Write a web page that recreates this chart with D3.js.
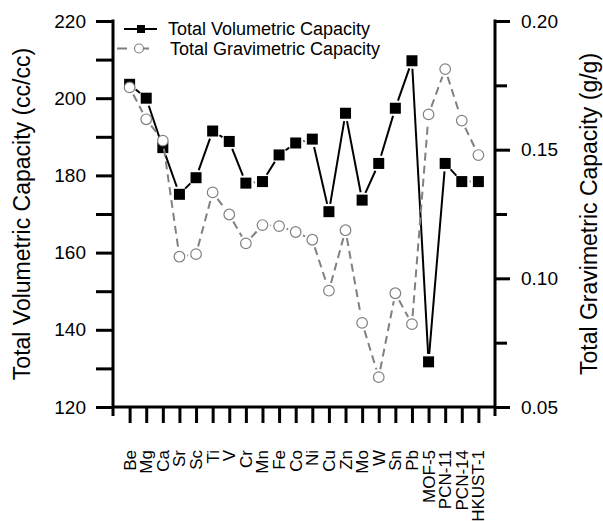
<!DOCTYPE html>
<html>
<head>
<meta charset="utf-8">
<script src="https://cdn.jsdelivr.net/npm/d3@7"></script>
<style>
  html, body { margin: 0; padding: 0; background: #fff; }
  svg { display: block; font-family: "Liberation Sans", Arial, sans-serif; }
</style>
</head>
<body>
<svg id="chart" width="603" height="521"></svg>
<script>
// Metal-substituted frameworks and reference MOFs
const categories = ["Be", "Mg", "Ca", "Sr", "Sc", "Ti", "V", "Cr", "Mn", "Fe", "Co", "Ni",
  "Cu", "Zn", "Mo", "W", "Sn", "Pb", "MOF-5", "PCN-11", "PCN-14", "HKUST-1"];

// Total volumetric capacity (cc/cc)
const volumetric = [203.6, 200.0, 187.2, 175.1, 179.4, 191.5, 188.8, 178.0, 178.4, 185.3, 188.4, 189.4,
  170.6, 196.1, 173.6, 183.1, 197.4, 209.7, 131.7, 183.1, 178.4, 178.4];

// Total gravimetric capacity (g/g)
const gravimetric = [0.1742, 0.1618, 0.1535, 0.1084, 0.1094, 0.1334, 0.1248, 0.1136, 0.1207, 0.1203, 0.1180, 0.1150,
  0.0952, 0.1187, 0.0827, 0.0616, 0.0942, 0.0822, 0.1637, 0.1813, 0.1613, 0.1479];

const leftTicks = [120, 140, 160, 180, 200, 220];
const leftMinor = [130, 150, 170, 190, 210];
const rightTicks = [0.05, 0.10, 0.15, 0.20];
const rightMinor = [0.075, 0.125, 0.175];

const seriesNames = ["Total Volumetric Capacity", "Total Gravimetric Capacity"];
const leftTitle = "Total Volumetric Capacity (cc/cc)";
const rightTitle = "Total Gravimetric Capacity (g/g)";

const svg = d3.select("#chart");
const plot = { left: 113, right: 495, top: 21, bottom: 407 };

const x = d3.scaleLinear().domain([0, categories.length + 1]).range([plot.left, plot.right]);
const yL = d3.scaleLinear().domain([120, 220]).range([plot.bottom, plot.top]);
const yR = d3.scaleLinear().domain([0.05, 0.20]).range([plot.bottom, plot.top]);

const axisW = 3;
const tickLen = 17;

// Axis lines (slightly extended below the bottom axis)
const axes = svg.append("g").attr("stroke", "#000").attr("stroke-width", axisW).attr("fill", "none");
axes.append("line").attr("x1", plot.left).attr("x2", plot.left)
  .attr("y1", plot.top - axisW / 2).attr("y2", plot.bottom + 9);
axes.append("line").attr("x1", plot.right).attr("x2", plot.right)
  .attr("y1", plot.top - axisW / 2).attr("y2", plot.bottom + 9);
axes.append("line").attr("x1", plot.left).attr("x2", plot.right)
  .attr("y1", plot.bottom).attr("y2", plot.bottom);

// Left axis: major + minor ticks, labels
const leftAxis = d3.axisLeft(yL).tickValues(leftTicks).tickSize(tickLen).tickPadding(10).tickFormat(d3.format("d"));
const gL = svg.append("g").attr("transform", `translate(${plot.left},0)`).call(leftAxis);
gL.select(".domain").remove();
gL.selectAll(".tick line").attr("stroke-width", axisW);
gL.selectAll(".tick text").attr("font-size", 19).attr("fill", "#000").attr("font-family", "Liberation Sans, Arial, sans-serif");
const leftMinorAxis = d3.axisLeft(yL).tickValues(leftMinor).tickSize(tickLen).tickFormat("");
const gLm = svg.append("g").attr("transform", `translate(${plot.left},0)`).call(leftMinorAxis);
gLm.select(".domain").remove();
gLm.selectAll(".tick line").attr("stroke-width", axisW);

// Right axis
const rightAxis = d3.axisRight(yR).tickValues(rightTicks).tickSize(tickLen - 2).tickPadding(11).tickFormat(d3.format(".2f"));
const gR = svg.append("g").attr("transform", `translate(${plot.right},0)`).call(rightAxis);
gR.select(".domain").remove();
gR.selectAll(".tick line").attr("stroke-width", axisW);
gR.selectAll(".tick text").attr("font-size", 19).attr("fill", "#000").attr("font-family", "Liberation Sans, Arial, sans-serif");
const rightMinorAxis = d3.axisRight(yR).tickValues(rightMinor).tickSize(tickLen - 5).tickFormat("");
const gRm = svg.append("g").attr("transform", `translate(${plot.right},0)`).call(rightMinorAxis);
gRm.select(".domain").remove();
gRm.selectAll(".tick line").attr("stroke-width", axisW);

// Bottom axis: one tick per category, rotated labels
const idx = categories.map((c, i) => i + 1);
const bottomAxis = d3.axisBottom(x).tickValues(idx).tickSize(tickLen - 1).tickFormat(i => categories[i - 1]);
const gB = svg.append("g").attr("transform", `translate(0,${plot.bottom})`).call(bottomAxis);
gB.select(".domain").remove();
gB.selectAll(".tick line").attr("stroke-width", axisW);
gB.selectAll(".tick text")
  .attr("font-size", 17).attr("fill", "#000").attr("font-family", "Liberation Sans, Arial, sans-serif")
  .attr("text-anchor", "end")
  .attr("dy", null)
  .attr("transform", "translate(0,43) rotate(-90)")
  .attr("x", 0).attr("y", 0)
  .attr("dominant-baseline", "central");

// Axis titles
svg.append("text")
  .attr("transform", `translate(30,${(plot.top + plot.bottom) / 2}) rotate(-90)`)
  .attr("text-anchor", "middle").attr("font-size", 23).attr("fill", "#000")
  .text(leftTitle);
svg.append("text")
  .attr("transform", `translate(597,${(plot.top + plot.bottom) / 2}) rotate(-90)`)
  .attr("text-anchor", "middle").attr("font-size", 23).attr("fill", "#000")
  .text(rightTitle);

// Connect points with segments that stop short of the markers
function gappedSegments(g, xs, ys, gap, attrs) {
  for (let i = 0; i < xs.length - 1; i++) {
    const x1 = xs[i], y1 = ys[i], x2 = xs[i + 1], y2 = ys[i + 1];
    const dx = x2 - x1, dy = y2 - y1, len = Math.hypot(dx, dy);
    if (len <= 2 * gap) continue;
    const ux = dx / len, uy = dy / len;
    const seg = g.append("line")
      .attr("x1", x1 + ux * gap).attr("y1", y1 + uy * gap)
      .attr("x2", x2 - ux * gap).attr("y2", y2 - uy * gap);
    Object.entries(attrs).forEach(([k, v]) => seg.attr(k, v));
  }
}

const volX = volumetric.map((v, i) => x(i + 1));
const volY = volumetric.map(v => yL(v));
const graX = gravimetric.map((v, i) => x(i + 1));
const graY = gravimetric.map(v => yR(v));

// Volumetric series: black solid line with filled squares
const gVol = svg.append("g");
gappedSegments(gVol, volX, volY, 8, { stroke: "#000", "stroke-width": 2 });
const sq = 11;
gVol.selectAll("rect").data(volumetric).join("rect")
  .attr("x", (d, i) => x(i + 1) - sq / 2).attr("y", d => yL(d) - sq / 2)
  .attr("width", sq).attr("height", sq).attr("fill", "#000");

// Gravimetric series: grey dashed line with open circles
const gGra = svg.append("g");
gappedSegments(gGra, graX, graY, 8, { stroke: "#808080", "stroke-width": 2, "stroke-dasharray": "8,5" });
gGra.selectAll("circle").data(gravimetric).join("circle")
  .attr("cx", (d, i) => x(i + 1)).attr("cy", d => yR(d)).attr("r", 5.3)
  .attr("fill", "#fff").attr("stroke", "#808080").attr("stroke-width", 1.2);

// Legend
const lg = svg.append("g");
lg.append("line").attr("x1", 124).attr("x2", 157).attr("y1", 29).attr("y2", 29)
  .attr("stroke", "#000").attr("stroke-width", 2);
lg.append("rect").attr("x", 141 - 4).attr("y", 29 - 4).attr("width", 8).attr("height", 8).attr("fill", "#000");
lg.append("text").attr("x", 168).attr("y", 29).attr("dy", "0.35em")
  .attr("font-size", 18).attr("fill", "#000").text(seriesNames[0]);

lg.append("line").attr("x1", 117).attr("x2", 155).attr("y1", 48.5).attr("y2", 48.5)
  .attr("stroke", "#808080").attr("stroke-width", 2).attr("stroke-dasharray", "10,12");
lg.append("circle").attr("cx", 139).attr("cy", 48.5).attr("r", 4.5)
  .attr("fill", "#fff").attr("stroke", "#808080").attr("stroke-width", 1.2);
lg.append("text").attr("x", 170).attr("y", 48.5).attr("dy", "0.35em")
  .attr("font-size", 18).attr("fill", "#000").text(seriesNames[1]);
</script>
</body>
</html>
